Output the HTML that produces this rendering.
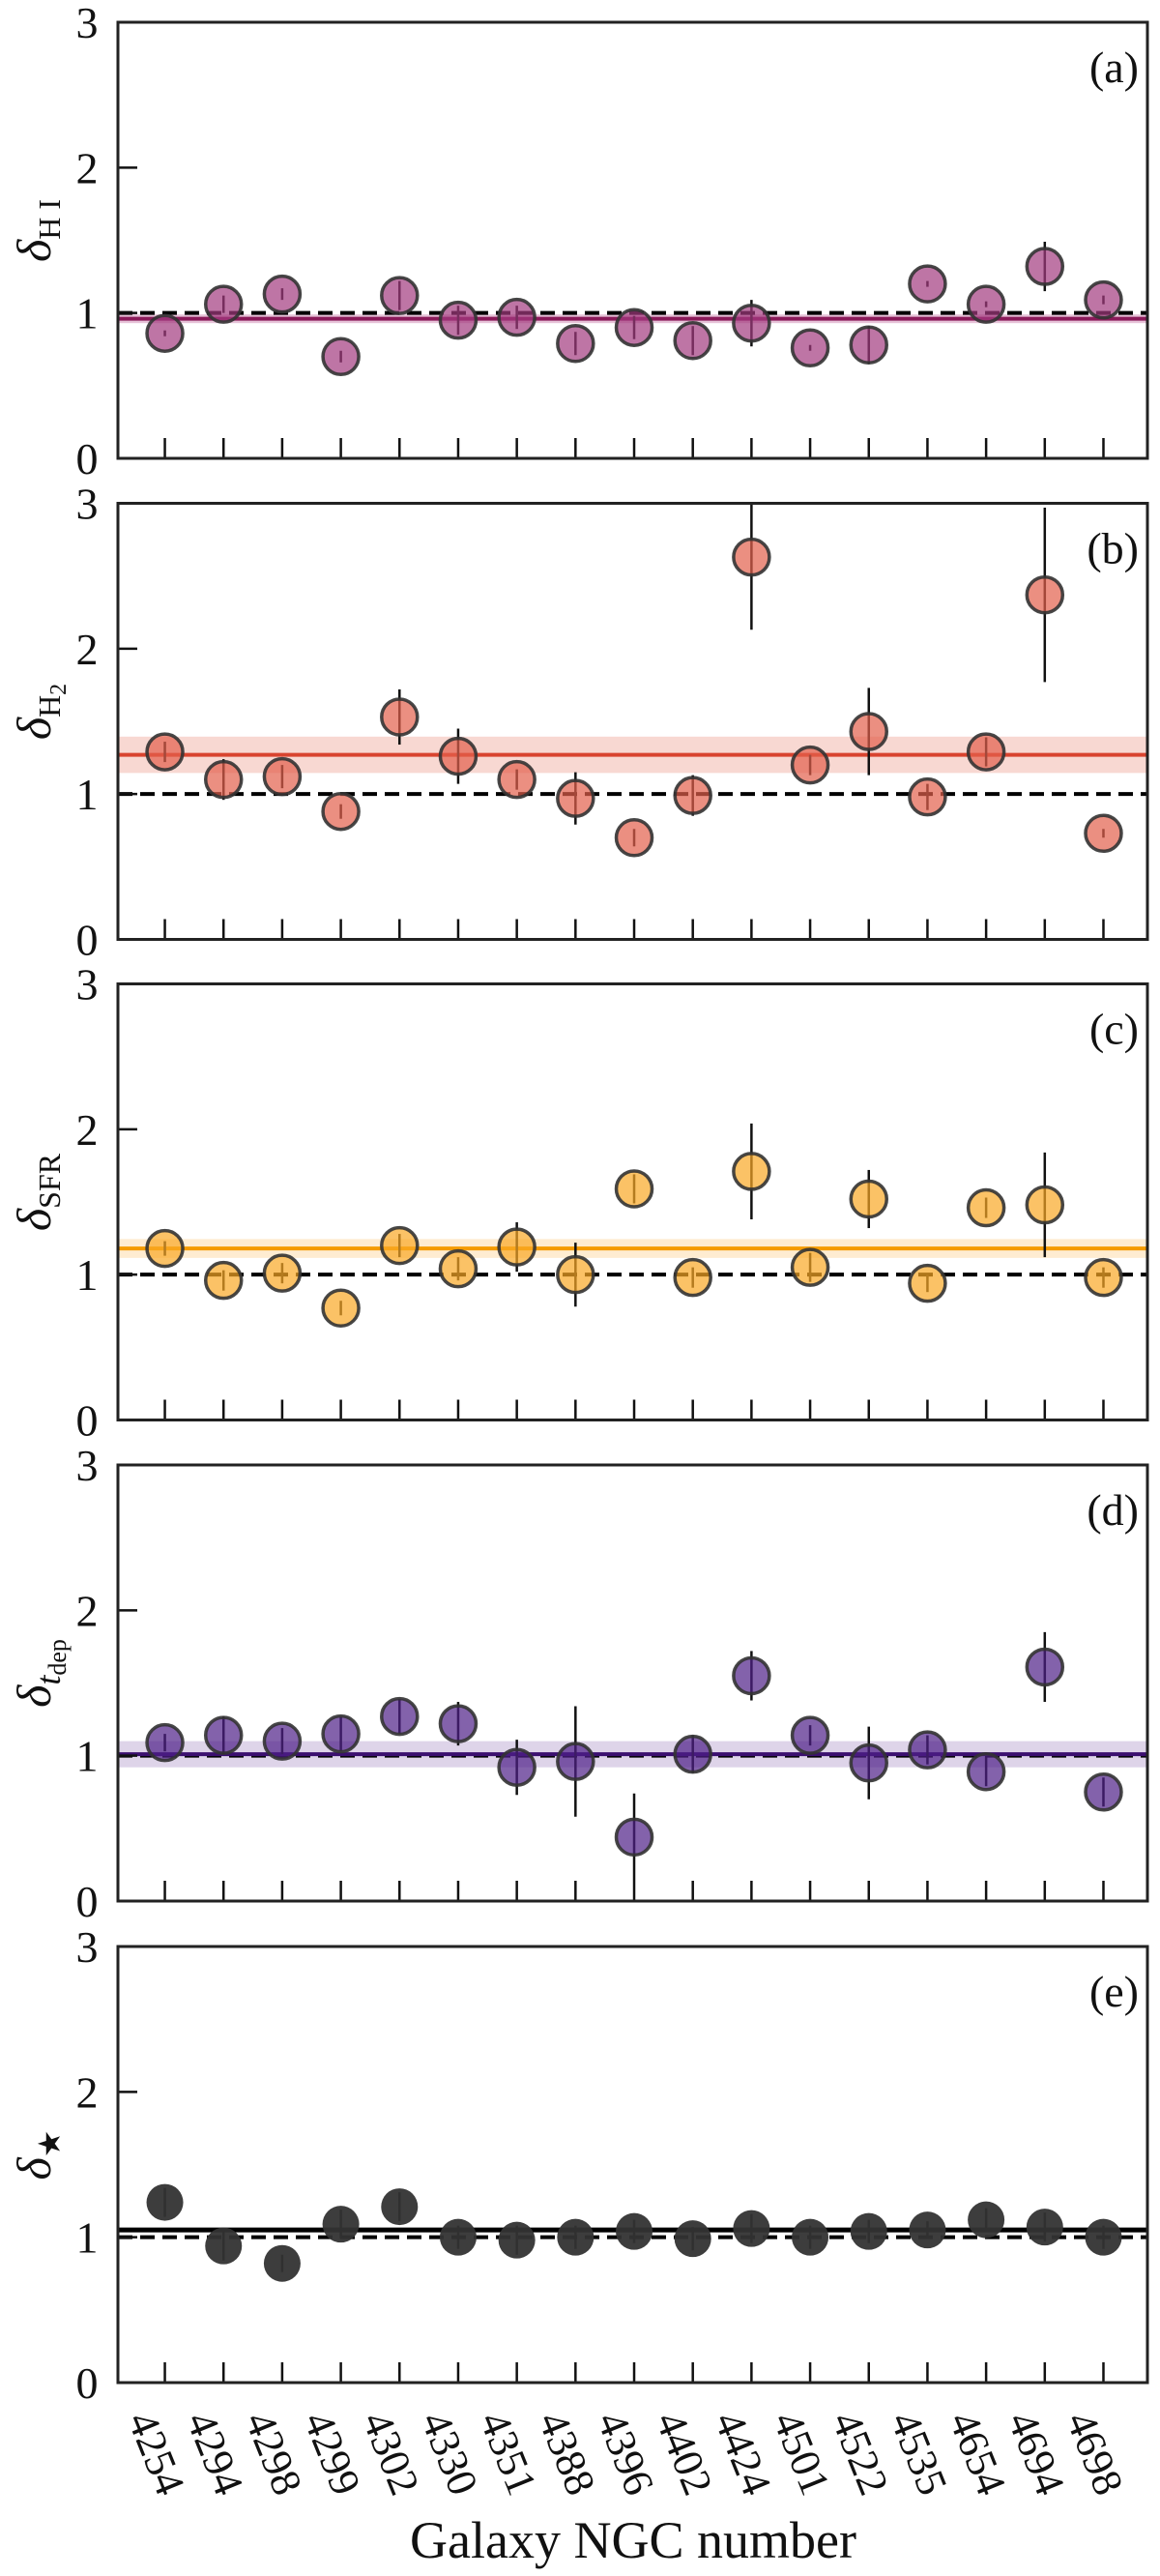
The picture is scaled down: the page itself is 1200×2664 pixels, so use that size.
<!DOCTYPE html>
<html><head><meta charset="utf-8"><style>
html,body{margin:0;padding:0;background:#fff}
svg{display:block}
text{font-family:"Liberation Serif",serif;fill:#111}
</style></head><body>
<svg id="fig" width="1200" height="2664" viewBox="0 0 1200 2664" xmlns="http://www.w3.org/2000/svg"></svg>
<script>
const galaxies = ["4254","4294","4298","4299","4302","4330","4351","4388","4396","4402","4424","4501","4522","4535","4654","4694","4698"];
const yTicks = [0,1,2,3];
const panelLabels = ["(a)","(b)","(c)","(d)","(e)"];
const valsHI = [0.86,1.06,1.13,0.70,1.12,0.95,0.97,0.79,0.90,0.81,0.93,0.76,0.78,1.20,1.06,1.32,1.09];
const errHI  = [0.02,0.06,0.04,0.04,0.10,0.10,0.08,0.08,0.08,0.10,0.16,0.02,0.13,0.02,0.02,0.17,0.03];
const valsH2 = [1.29,1.10,1.12,0.88,1.53,1.26,1.10,0.97,0.70,0.99,2.63,1.20,1.43,0.98,1.29,2.37,0.73];
const errH2  = [0.07,0.14,0.08,0.05,0.19,0.19,0.07,0.18,0.06,0.14,0.50,0.07,0.30,0.09,0.10,0.60,0.03];
const valsSFR = [1.18,0.96,1.01,0.77,1.20,1.04,1.19,1.00,1.59,0.98,1.71,1.05,1.52,0.94,1.46,1.48,0.98];
const errSFR  = [0.05,0.07,0.07,0.05,0.08,0.08,0.17,0.22,0.10,0.07,0.33,0.10,0.20,0.06,0.07,0.36,0.07];
const valsDep = [1.09,1.14,1.10,1.15,1.27,1.22,0.92,0.96,0.44,1.01,1.55,1.14,0.95,1.04,0.89,1.61,0.75];
const errDep  = [0.06,0.13,0.09,0.12,0.12,0.15,0.19,0.38,0.30,0.13,0.17,0.07,0.25,0.10,0.10,0.24,0.10];
const valsStar = [1.24,0.94,0.82,1.09,1.21,1.00,0.98,1.00,1.04,0.99,1.06,1.00,1.04,1.05,1.12,1.07,1.00];
const errStar  = [0.10,0.10,0.06,0.10,0.10,0.08,0.10,0.08,0.08,0.08,0.10,0.08,0.08,0.06,0.08,0.10,0.08];
const means = [0.96,1.27,1.18,1.01,1.05];
const bands = [0.03,0.125,0.065,0.09,0.01];

const NS="http://www.w3.org/2000/svg";
const svg=document.getElementById('fig');
function mk(tag,attrs,parent){const e=document.createElementNS(NS,tag);for(const k in attrs)e.setAttribute(k,attrs[k]);(parent||svg).appendChild(e);return e;}

const L=122,R=1187,H=451;
const tops=[23,520.5,1017.5,1515,2013];
const xDom=[-0.8,16.75];
function xs(i){return L+(i-xDom[0])/(xDom[1]-xDom[0])*(R-L);}

const panels=[
 {v:valsHI,e:errHI,fill:"#a33a7f",line:"#8b1a5a",band:"#c77aa8",edge:true,lab:"HI"},
 {v:valsH2,e:errH2,fill:"#e2604c",line:"#d9442f",band:"#f0a89c",edge:true,lab:"H2"},
 {v:valsSFR,e:errSFR,fill:"#f9a825",line:"#f59b00",band:"#fcd49a",edge:true,lab:"SFR"},
 {v:valsDep,e:errDep,fill:"#4f1f87",line:"#3b0f6f",band:"#b59fcf",edge:true,lab:"dep"},
 {v:valsStar,e:errStar,fill:"#333333",line:"#000000",band:"#999999",edge:false,lab:"star"}
];

panels.forEach((p,pi)=>{
  const top=tops[pi],bot=top+H;
  const ys=v=>bot-v/3*H;
  const g=mk('g',{});
  
  
  const clipId='clip'+pi;
  const cp=mk('clipPath',{id:clipId},g);
  mk('rect',{x:L,y:top,width:R-L,height:H},cp);
  const plot=mk('g',{'clip-path':'url(#'+clipId+')'},g);
  const band=mk('rect',{x:L,y:ys(means[pi]+bands[pi]),width:R-L,height:ys(means[pi]-bands[pi])-ys(means[pi]+bands[pi]),fill:p.band,'fill-opacity':0.45},plot);
  
  
  const dl=mk('line',{x1:L,x2:R,y1:ys(1),y2:ys(1),stroke:'#000','stroke-width':4,'stroke-dasharray':'15 8'},plot);
  
  
  const ml=mk('line',{x1:L,x2:R,y1:ys(means[pi]),y2:ys(means[pi]),stroke:p.line,'stroke-width':pi==4?5:4},plot);
  
  
  p.v.forEach((v,i)=>{
    const x=xs(i);
    const eb=mk('line',{x1:x,x2:x,y1:ys(v+p.e[i]),y2:ys(v-p.e[i]),stroke:'#111','stroke-width':2.5},plot);
    
    
    const c=mk('circle',{cx:x,cy:ys(v),r:p.edge?18.5:19,fill:p.fill,'fill-opacity':p.edge?0.7:0.95},plot);
    if(p.edge){c.setAttribute('stroke','#333');c.setAttribute('stroke-width',3.5);c.setAttribute('stroke-opacity',0.9);}
    
    
  });
  galaxies.forEach((gname,i)=>{
    const t=mk('line',{x1:xs(i),x2:xs(i),y1:bot,y2:bot-21,stroke:'#111','stroke-width':2.5},g);
    
    
  });
  yTicks.forEach(t=>{
    const tk=mk('line',{x1:L,x2:L+20,y1:ys(t),y2:ys(t),stroke:'#111','stroke-width':2.5},g);
    
    
    const tl=mk('text',{x:90,y:ys(t)+16,'text-anchor':'middle','font-size':46},g);
    tl.textContent=t;
    
    
  });
  const fr=mk('rect',{x:L,y:top,width:R-L,height:H,fill:'none',stroke:'#222','stroke-width':3},g);
  
  
  const pl=mk('text',{x:1178,y:top+62,'text-anchor':'end','font-size':46},g);
  pl.textContent=panelLabels[pi];
  
  
  const cy=top+H/2-10;
  const yl=mk('text',{transform:'translate(52,'+cy+') rotate(-90)','text-anchor':'middle','font-size':50},g);
  
  
  const d=mk('tspan',{'font-style':'italic'},yl);d.textContent='δ';
  if(p.lab==='HI'){const s=mk('tspan',{dy:10,'font-size':32},yl);s.textContent='H I';}
  else if(p.lab==='H2'){const s=mk('tspan',{dy:10,'font-size':32},yl);s.textContent='H';const s2=mk('tspan',{dy:6,'font-size':24},yl);s2.textContent='2';}
  else if(p.lab==='SFR'){const s=mk('tspan',{dy:10,'font-size':32},yl);s.textContent='SFR';}
  else if(p.lab==='dep'){const s=mk('tspan',{dy:10,'font-size':36,'font-style':'italic'},yl);s.textContent='t';const s2=mk('tspan',{dy:6,'font-size':26},yl);s2.textContent='dep';}
  else {const s=mk('tspan',{dy:10,'font-size':32},yl);s.textContent='★';}
});

galaxies.forEach((gname,i)=>{
  const x=xs(i)-10, y=2490;
  const t=mk('text',{x:0,y:0,transform:'translate('+x+','+y+') rotate(68)','font-size':44,'dominant-baseline':'hanging'});
  t.textContent=gname;
  
  
});
const xt=mk('text',{x:655,y:2645,'text-anchor':'middle','font-size':54});
xt.textContent='Galaxy NGC number';


</script>
</body></html>
